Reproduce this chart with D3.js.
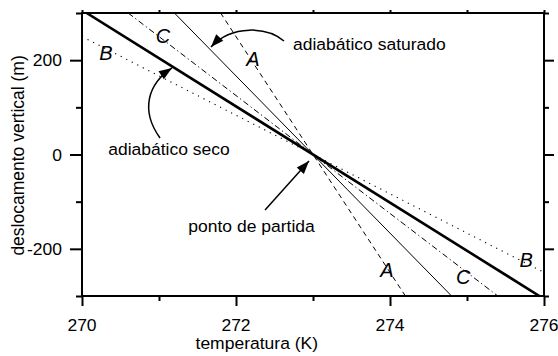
<!DOCTYPE html>
<html><head><meta charset="utf-8">
<script src="https://cdn.jsdelivr.net/npm/d3@7"></script>
<style>
body{margin:0;background:#fff}
text{font-family:"Liberation Sans",Arial,sans-serif;fill:#000}
</style>
</head><body>
<svg id="chart" width="558" height="356"></svg>
<script>
// Axis ticks
const xMajor = [270, 272, 274, 276];
const xMinor = [271, 273, 275];
const yMajor = [-200, 0, 200];
const yMinor = [-300, -100, 100, 300];
const xTickLabels = ["270", "272", "274", "276"];
const yTickLabels = ["-200", "0", "200"];

// Temperature profiles: temperature (K) at the two end heights (m)
const heightsFull = [300, -300];
const heightsB = [250, -250];
const tSeco = [270.06, 275.94];
const tSaturado = [271.2, 274.8];
const tA = [271.8, 274.2];
const tC = [270.6, 275.4];
const tB = [270, 276];

// Curve letters
const letterText = ["B", "C", "A", "A", "C", "B"];
const letterT = [270.31, 271.05, 272.22, 273.96, 274.95, 275.77];
const letterZ = [215, 251, 202, -245, -260, -224];

// Annotations (left edge temperature, baseline height)
const noteText = ["adiabático saturado", "adiabático seco", "ponto de partida"];
const noteT = [272.74, 270.34, 271.38];
const noteZ = [221.5, 0, -164];

// Annotation arrows (tail -> head) in data units
const arrowSaturado = [[272.623, 240.6], [272.416, 270.3], [271.948, 276.7], [271.675, 227.9]];
const arrowSeco = [[271.013, 35], [270.753, 94.3], [270.857, 149.5], [271.169, 183.4]];
const arrowPonto = [[272.377, -117.7], [272.948, -13.8]];

const svg = d3.select("#chart");
const pLeft = 82, pRight = 544, pTop = 13, pBottom = 296;
const sx = 1.03; // slight horizontal text stretch
const fs = 17;

const x = d3.scaleLinear().domain([270, 276]).range([pLeft, pRight]);
const y = d3.scaleLinear().domain([-300, 300]).range([pBottom, pTop]);

const defs = svg.append("defs");
defs.append("clipPath").attr("id", "plotclip")
  .append("rect").attr("x", pLeft).attr("y", pTop)
  .attr("width", pRight - pLeft).attr("height", pBottom - pTop);

defs.append("marker")
  .attr("id", "head").attr("markerUnits", "userSpaceOnUse")
  .attr("viewBox", "-14 -6 15 12").attr("refX", 0).attr("refY", 0)
  .attr("markerWidth", 15).attr("markerHeight", 12).attr("orient", "auto")
  .append("path").attr("d", "M0,0 L-13,-4.8 L-13,4.8 Z").attr("fill", "#000");

// Profiles
const line = d3.line().x(d => x(d[0])).y(d => y(d[1]));
const profiles = [
  {t: tSeco, z: heightsFull, w: 2.6, dash: null},
  {t: tSaturado, z: heightsFull, w: 1, dash: null},
  {t: tA, z: heightsFull, w: 1, dash: "5,4"},
  {t: tC, z: heightsFull, w: 1, dash: "6,3,1.2,3"},
  {t: tB, z: heightsB, w: 1.1, dash: "1.2,5"}
];
const gLines = svg.append("g").attr("clip-path", "url(#plotclip)");
profiles.forEach(p => {
  gLines.append("path")
    .attr("d", line(p.t.map((t, i) => [t, p.z[i]])))
    .attr("fill", "none").attr("stroke", "#000")
    .attr("stroke-width", p.w)
    .attr("stroke-dasharray", p.dash);
});

// Axes
function ax(gen, tr, vals, size) {
  const g = svg.append("g").attr("transform", tr)
    .call(gen.tickValues(vals).tickSize(size).tickFormat(""));
  g.selectAll("path").remove();
  g.selectAll("line").attr("stroke", "#000").attr("stroke-width", 2);
}
ax(d3.axisBottom(x), `translate(0,${pBottom})`, xMajor, 10);
ax(d3.axisBottom(x), `translate(0,${pBottom})`, xMinor, 5);
ax(d3.axisTop(x), `translate(0,${pTop})`, xMajor.concat(xMinor), 3);
ax(d3.axisLeft(y), `translate(${pLeft},0)`, yMajor, 12);
ax(d3.axisLeft(y), `translate(${pLeft},0)`, yMinor, 6);
ax(d3.axisRight(y), `translate(${pRight},0)`, yMajor, 10);
ax(d3.axisRight(y), `translate(${pRight},0)`, yMinor, 5);

svg.append("rect").attr("x", pLeft).attr("y", pTop)
  .attr("width", pRight - pLeft).attr("height", pBottom - pTop)
  .attr("fill", "none").attr("stroke", "#000").attr("stroke-width", 2);

// Tick labels
xMajor.forEach((v, i) => {
  svg.append("text").attr("transform", `translate(${x(v)},${pBottom + 35}) scale(${sx},1)`)
    .attr("text-anchor", "middle").attr("font-size", fs).text(xTickLabels[i]);
});
yMajor.forEach((v, i) => {
  svg.append("text").attr("transform", `translate(${pLeft - 20},${y(v) + 6}) scale(${sx},1)`)
    .attr("text-anchor", "end").attr("font-size", fs).text(yTickLabels[i]);
});

// Axis titles
svg.append("text").attr("transform", `translate(${x(272.27)},${pBottom + 53}) scale(${sx},1)`)
  .attr("text-anchor", "middle").attr("font-size", fs).text("temperatura (K)");
svg.append("text").attr("transform", `translate(24,${y(-2)}) rotate(-90)`)
  .attr("text-anchor", "middle").attr("font-size", 17.5).text("deslocamento vertical (m)");

// Curve letters
letterText.forEach((s, i) => {
  svg.append("text").attr("transform", `translate(${x(letterT[i])},${y(letterZ[i])})`)
    .attr("text-anchor", "middle").attr("dy", "0.36em")
    .attr("font-size", 20).attr("font-style", "italic").text(s);
});

// Annotations
noteText.forEach((s, i) => {
  svg.append("text").attr("transform", `translate(${x(noteT[i])},${y(noteZ[i])}) scale(${sx},1)`)
    .attr("font-size", fs).text(s);
});

// Arrows
function cubic(pts) {
  const p = pts.map(d => [x(d[0]), y(d[1])]);
  return `M${p[0]}C${p[1]} ${p[2]} ${p[3]}`;
}
[arrowSaturado, arrowSeco].forEach(a => {
  svg.append("path").attr("d", cubic(a)).attr("fill", "none")
    .attr("stroke", "#000").attr("stroke-width", 1.5).attr("marker-end", "url(#head)");
});
svg.append("path").attr("d", line(arrowPonto)).attr("fill", "none")
  .attr("stroke", "#000").attr("stroke-width", 1.5).attr("marker-end", "url(#head)");
</script>
</body></html>
